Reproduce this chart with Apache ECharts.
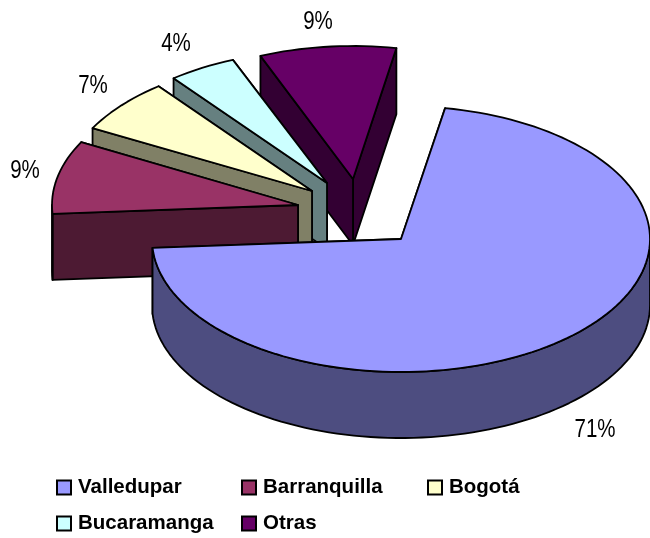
<!DOCTYPE html>
<html>
<head>
<meta charset="utf-8">
<style>html,body{margin:0;padding:0;background:#fff}#c{width:650px;height:538px}</style>
<script src="https://cdn.jsdelivr.net/npm/echarts@6/dist/echarts.min.js"></script>
</head>
<body>
<div id="c"></div>
<script>
const categories = ['Valledupar', 'Barranquilla', 'Bogotá', 'Bucaramanga', 'Otras'];
const shares = [71.1, 8.9, 6.6, 4.4, 9.0];

const topColors = ['#9999FF', '#993366', '#FFFFCC', '#CCFFFF', '#660066'];
const sideColors = ['#4D4D80', '#4D1A33', '#808066', '#668080', '#330033'];
const apexes = [[401, 239], [298, 205], [312, 191], [327, 183], [353, 179]];
const radiiX = [249, 246, 249, 249, 245];
const labelSpots = [[595, 430], [25, 171], [93, 86], [176, 44], [318, 22]];
const legendSpots = [[56, 477], [241, 477], [427, 477], [56, 513], [241, 513]];
const drawOrder = [4, 3, 2, 1, 0]; // back slices first
const firstAngle = 10.2, ry = 133, depth = 66;

const total = shares.reduce((a, b) => a + b, 0);
function startOf(i) {
  let a = firstAngle;
  for (let k = 0; k < i; k++) a += shares[k] / total * 360;
  return a;
}
function rim(i, deg, drop) {
  const t = deg * Math.PI / 180, ap = apexes[i];
  return [ap[0] + radiiX[i] * Math.sin(t), ap[1] - ry * Math.cos(t) + (drop || 0)];
}
function arc(i, a0, a1, drop) {
  const pts = [], n = Math.max(2, Math.ceil((a1 - a0) / 2));
  for (let j = 0; j <= n; j++) pts.push(rim(i, a0 + (a1 - a0) * j / n, drop));
  return pts;
}
const edge = {stroke: '#000', lineWidth: 1.8, lineJoin: 'round'};
function poly(points, fill) {
  return {type: 'polygon', shape: {points}, style: Object.assign({fill}, edge)};
}
function renderSlice(i, api) {
  const v = api.value(0);
  const a0 = startOf(i), a1 = a0 + v / total * 360, ap = apexes[i];
  const down = p => [p[0], p[1] + depth];
  const kids = [];
  const s = rim(i, a0), e = rim(i, a1);
  kids.push(poly([ap, e, down(e), down(ap)], sideColors[i]));
  kids.push(poly([ap, s, down(s), down(ap)], sideColors[i]));
  const lo = Math.max(a0, 90), hi = Math.min(a1, 270);
  if (hi > lo) {
    kids.push(poly(arc(i, lo, hi).concat(arc(i, lo, hi, depth).reverse()), sideColors[i]));
  }
  kids.push(poly([ap].concat(arc(i, a0, a1)), topColors[i]));
  kids.push({
    type: 'text', z2: 50,
    x: labelSpots[i][0], y: labelSpots[i][1],
    scaleX: 0.82,
    style: {
      x: 0, y: 0,
      text: Math.round(v) + '%',
      font: '25px "Liberation Sans", sans-serif',
      fill: '#000', align: 'center', verticalAlign: 'middle'
    }
  });
  return {type: 'group', children: kids};
}

const series = categories.map((name, i) => ({
  type: 'custom',
  name,
  coordinateSystem: 'none',
  z: 10 + drawOrder.indexOf(i),
  silent: true,
  animation: false,
  itemStyle: {color: topColors[i], borderColor: '#000', borderWidth: 2},
  renderItem: (params, api) => renderSlice(i, api),
  data: [[shares[i]]]
}));
const legend = categories.map((name, i) => ({
  data: [name],
  left: legendSpots[i][0],
  top: legendSpots[i][1],
  padding: 0,
  icon: 'rect',
  itemWidth: 14,
  itemHeight: 14,
  selectedMode: false,
  itemStyle: {borderColor: '#000', borderWidth: 2},
  textStyle: {
    color: '#000', fontSize: 20.5, fontWeight: 'bold',
    fontFamily: '"Liberation Sans", Arial, sans-serif',
    padding: [0, 0, 0, 2]
  }
}));
const chart = echarts.init(document.getElementById('c'), null, {renderer: 'canvas'});
chart.setOption({backgroundColor: '#fff', animation: false, legend, series});
</script>
</body>
</html>
